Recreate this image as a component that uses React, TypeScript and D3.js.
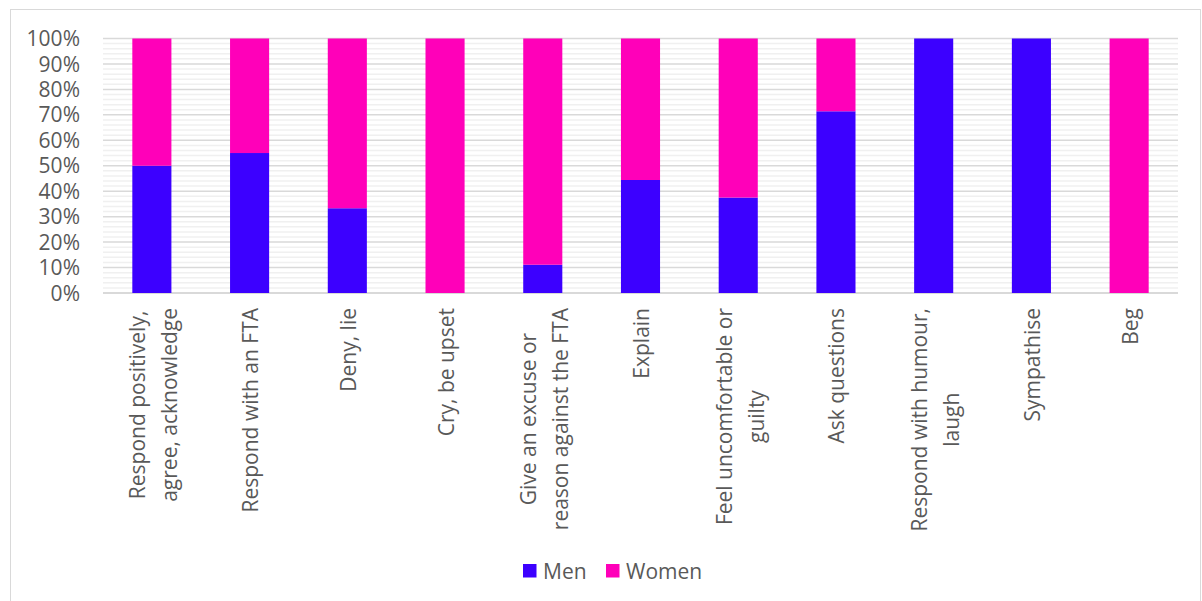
import React from "react";
import * as d3 from "d3";

const categories: string[][] = [
  ["Respond positively,", "agree, acknowledge"],
  ["Respond with an FTA"],
  ["Deny, lie"],
  ["Cry, be upset"],
  ["Give an excuse or", "reason against the FTA"],
  ["Explain"],
  ["Feel uncomfortable or", "guilty"],
  ["Ask questions"],
  ["Respond with humour,", "laugh"],
  ["Sympathise"],
  ["Beg"],
];
const menValues = [50, 55, 33.3, 0, 11.1, 44.4, 37.5, 71.4, 100, 100, 0];
const womenValues = [50, 45, 66.7, 100, 88.9, 55.6, 62.5, 28.6, 0, 0, 100];
const seriesNames = ["Men", "Women"];
const seriesColors = ["#3C00FF", "#FF00B9"];
const majorTicks = [0, 10, 20, 30, 40, 50, 60, 70, 80, 90, 100];
const minorTicks = d3.range(0, 101, 2);

const FS = 21;
const FONT = "'Open Sans', sans-serif";

function measure(s: string): number {
  try {
    const ctx = document.createElement("canvas").getContext("2d");
    if (ctx) {
      ctx.font = `${FS}px ${FONT}`;
      return ctx.measureText(s).width;
    }
  } catch (e) {}
  return s.length * FS * 0.52;
}

export default function App() {
  const W = 1202, H = 601;
  const left = 103, right = 1178, top = 38.5, bottom = 293;
  const x = d3.scaleBand<number>().domain(d3.range(categories.length)).range([left, right]).paddingInner(0.6).paddingOuter(0.3);
  const y = d3.scaleLinear().domain([0, 100]).range([bottom, top]);
  const rows = categories.map((c, i) => ({ i, Men: menValues[i], Women: womenValues[i] }));
  const stack = d3.stack<any>().keys(seriesNames)(rows);
  const lineH = 32;
  const labelTop = 308;
  return (
    <svg width={W} height={H} style={{ position: "absolute", left: 0, top: 0 }}>
      <rect x={0} y={0} width={W} height={H} fill="#fff" />
      <rect x={10.5} y={9.5} width={1190} height={600} fill="#fff" stroke="#d9d9d9" />
      {minorTicks.filter(t => t % 10 !== 0).map(t => (
        <line key={"m" + t} x1={left} x2={right} y1={y(t)} y2={y(t)} stroke="#f0f0f0" strokeWidth={1.5} />
      ))}
      {majorTicks.map(t => (
        <line key={"g" + t} x1={left} x2={right} y1={y(t)} y2={y(t)} stroke="#d9d9d9" strokeWidth={t === 0 ? 2 : 1.5} />
      ))}
      {majorTicks.map(t => (
        <text key={"t" + t} x={80} y={y(t)} dy="0.36em" textAnchor="end" fontFamily={FONT} fontSize={FS} fill="#595959">{t}%</text>
      ))}
      {stack.map((s, si) => (
        <g key={s.key} fill={seriesColors[si]}>
          {s.map((d, i) => (
            d[1] - d[0] > 0 ? <rect key={i} x={x(i)!} width={x.bandwidth()} y={y(d[1])} height={y(d[0]) - y(d[1])} /> : null
          ))}
        </g>
      ))}
      {categories.map((lines, i) => {
        const cx = x(i)! + x.bandwidth() / 2;
        const n = lines.length;
        if (n === 1) {
          return (
            <text key={i} transform={`translate(${cx + 8.5},${labelTop}) rotate(-90)`} textAnchor="end"
              fontFamily={FONT} fontSize={FS} fill="#595959">{lines[0]}</text>
          );
        }
        const maxLen = Math.max(...lines.map(measure));
        const mid = labelTop + maxLen / 2;
        return lines.map((ln, li) => {
          const off = (li - (n - 1) / 2) * lineH;
          return (
            <text key={i + "-" + li} transform={`translate(${cx + 9.5 + off},${mid}) rotate(-90)`} textAnchor="middle"
              fontFamily={FONT} fontSize={FS} fill="#595959">{ln}</text>
          );
        });
      })}
      {seriesNames.map((nm, i) => {
        const lx = i === 0 ? 523 : 606;
        return (
          <g key={nm}>
            <rect x={lx} y={564} width={13.5} height={13.5} fill={seriesColors[i]} />
            <text x={lx + 20} y={571} dy="0.36em" fontFamily={FONT} fontSize={FS} fill="#595959">{nm}</text>
          </g>
        );
      })}
    </svg>
  );
}
